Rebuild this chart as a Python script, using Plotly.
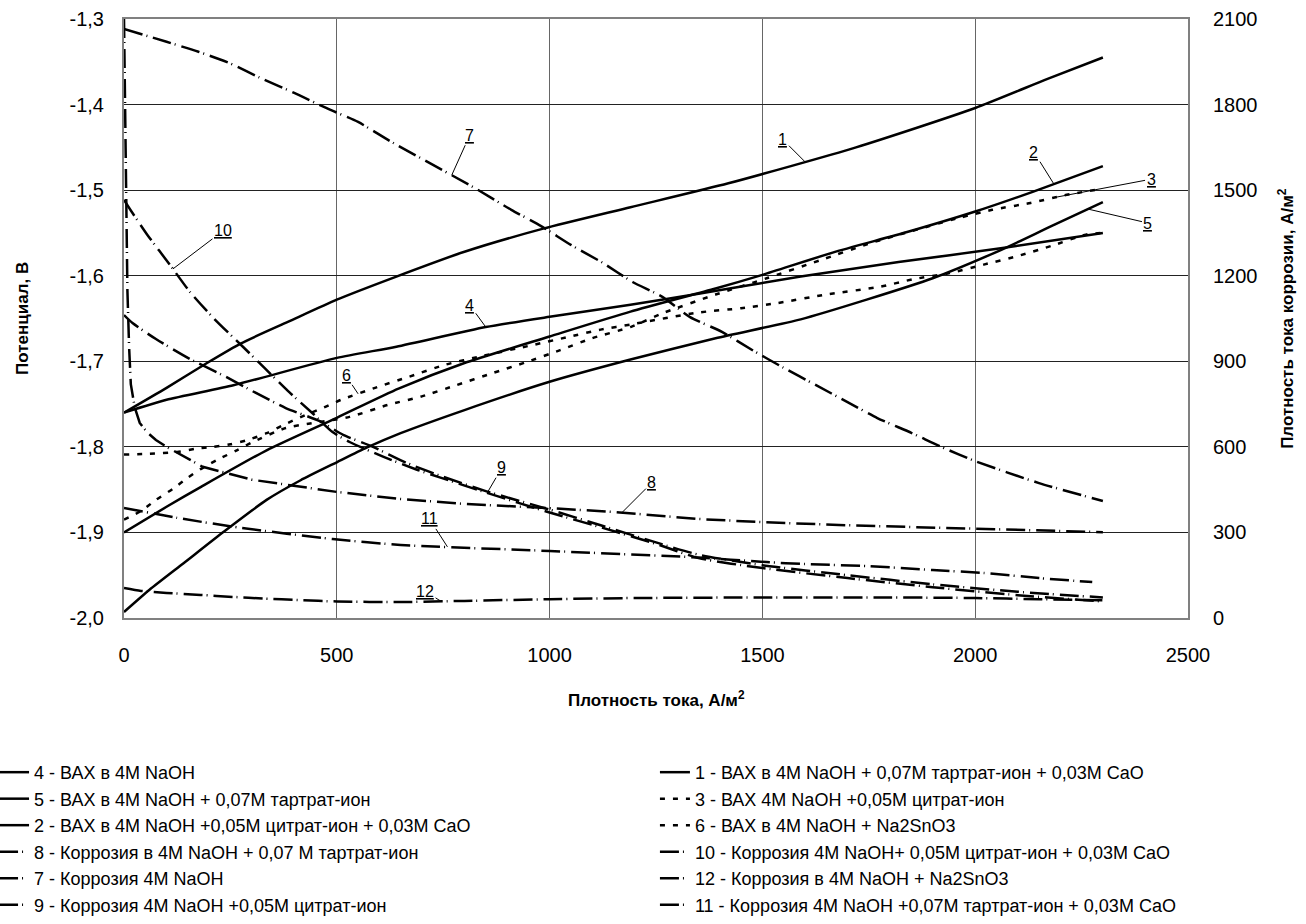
import numpy as np
import plotly.graph_objects as go

# ---------------- data ----------------
# Potential curves (left axis, V)
x1 = [0, 100, 195, 275, 385, 500, 640, 800, 985, 1190, 1420, 1720, 2000, 2170, 2300]
v1 = [-1.760, -1.731, -1.702, -1.679, -1.654, -1.628, -1.601, -1.572, -1.545, -1.520, -1.492, -1.450, -1.404, -1.370, -1.345]

x2 = [0, 100, 180, 335, 500, 645, 800, 1000, 1190, 1390, 1500, 1665, 1840, 2000, 2135, 2300]
v2 = [-1.900, -1.870, -1.847, -1.804, -1.766, -1.732, -1.702, -1.671, -1.642, -1.615, -1.599, -1.573, -1.549, -1.525, -1.502, -1.472]

x3 = [0, 40, 75, 115, 150, 180, 220, 265, 300, 380, 530, 620, 700, 780, 865, 945, 1025, 1100, 1190, 1270, 1390, 1510, 1635, 1760, 1965, 2040, 2130, 2210, 2290]
v3 = [-1.885, -1.875, -1.862, -1.849, -1.836, -1.826, -1.815, -1.804, -1.795, -1.778, -1.765, -1.751, -1.741, -1.728, -1.714, -1.701, -1.687, -1.673, -1.660, -1.643, -1.622, -1.603, -1.582, -1.561, -1.532, -1.523, -1.515, -1.506, -1.499]

x4 = [0, 100, 257, 500, 640, 850, 1000, 1190, 1350, 1590, 1820, 2060, 2300]
v4 = [-1.760, -1.745, -1.728, -1.696, -1.683, -1.660, -1.648, -1.634, -1.621, -1.601, -1.584, -1.568, -1.550]

x5 = [0, 60, 140, 235, 335, 415, 500, 570, 650, 800, 1000, 1190, 1390, 1590, 1745, 1900, 2060, 2175, 2300]
v5 = [-1.993, -1.967, -1.936, -1.899, -1.862, -1.839, -1.818, -1.801, -1.784, -1.757, -1.724, -1.698, -1.673, -1.651, -1.628, -1.603, -1.570, -1.543, -1.514]

x6 = [0, 60, 125, 170, 210, 250, 290, 335, 385, 425, 470, 510, 590, 670, 755, 840, 960, 1040, 1120, 1190, 1350, 1450, 1535, 1650, 1775, 1855, 1940, 2020, 2100, 2180, 2260, 2300]
v6 = [-1.809, -1.808, -1.806, -1.802, -1.800, -1.797, -1.792, -1.784, -1.772, -1.763, -1.754, -1.745, -1.731, -1.718, -1.704, -1.694, -1.681, -1.672, -1.663, -1.657, -1.643, -1.638, -1.632, -1.622, -1.613, -1.604, -1.597, -1.587, -1.577, -1.565, -1.552, -1.550]

# Corrosion current density curves (right axis, A/m2)
x7 = [0, 100, 175, 250, 325, 400, 475, 550, 625, 820, 910, 980, 1050, 1125, 1195, 1265, 1330, 1405, 1480, 1550, 1625, 1700, 1770, 1850, 1920, 2000, 2150, 2300]
c7 = [2065, 2020, 1985, 1944, 1890, 1841, 1788, 1739, 1672, 1511, 1431, 1374, 1308, 1245, 1178, 1126, 1055, 1003, 936, 877, 817, 757, 701, 649, 600, 550, 473, 410]

x8 = [0, 2, 5, 8, 12, 16, 25, 37, 55, 75, 100, 135, 185, 300, 500, 650, 800, 1000, 1150, 1350, 1500, 1700, 2000, 2150, 2300]
c8 = [2100, 1900, 1500, 1150, 950, 820, 740, 684, 650, 624, 600, 570, 530, 485, 442, 417, 400, 385, 372, 347, 336, 325, 312, 306, 301]

x9 = [0, 20, 75, 155, 235, 310, 380, 460, 515, 585, 665, 750, 850, 1000, 1120, 1250, 1350, 1500, 1700, 1900, 2100, 2300]
c9 = [1062, 1034, 978, 908, 849, 789, 736, 690, 642, 600, 543, 495, 445, 380, 325, 265, 222, 185, 150, 118, 92, 72]

x10 = [0, 20, 55, 110, 155, 210, 280, 330, 385, 445, 490, 530, 610, 690, 740, 850, 1000, 1120, 1250, 1350, 1500, 1700, 1900, 2100, 2300]
c10 = [1466, 1420, 1343, 1234, 1143, 1052, 950, 877, 796, 715, 652, 617, 565, 519, 494, 440, 370, 318, 260, 210, 175, 140, 108, 80, 58]

x11 = [0, 125, 275, 490, 650, 1000, 1350, 1510, 1600, 1750, 1900, 2020, 2150, 2275]
c11 = [386, 351, 316, 277, 256, 235, 212, 196, 189, 182, 168, 158, 140, 126]

x12 = [0, 40, 100, 180, 255, 330, 410, 500, 650, 800, 1000, 1200, 1500, 1800, 2000, 2150, 2300]
c12 = [105, 95, 88, 81, 74, 68, 63, 58, 56, 60, 66, 70, 72, 72, 70, 66, 62]

names = {
    1: "1 - ВАХ в 4М NaOH + 0,07М тартрат-ион + 0,03М CaO",
    2: "2 - ВАХ в 4М NaOH +0,05М цитрат-ион + 0,03М CaO",
    3: "3 - ВАХ 4М NaOH +0,05М цитрат-ион",
    4: "4 - ВАХ в 4М NaOH",
    5: "5 - ВАХ в 4М NaOH + 0,07М тартрат-ион",
    6: "6 - ВАХ в 4М NaOH + Na2SnO3",
    7: "7 - Коррозия 4М NaOH",
    8: "8 - Коррозия в 4М NaOH + 0,07 М тартрат-ион",
    9: "9 - Коррозия 4М NaOH +0,05М цитрат-ион",
    10: "10 - Коррозия 4М NaOH+ 0,05М цитрат-ион + 0,03М CaO",
    11: "11 - Коррозия 4М NaOH +0,07М тартрат-ион + 0,03М CaO",
    12: "12 - Коррозия в 4М NaOH + Na2SnO3",
}

x_ticks = [0, 500, 1000, 1500, 2000, 2500]
y_ticks = [-2.0, -1.9, -1.8, -1.7, -1.6, -1.5, -1.4, -1.3]
y_ticktext = ["-2,0", "-1,9", "-1,8", "-1,7", "-1,6", "-1,5", "-1,4", "-1,3"]
y2_ticks = [0, 300, 600, 900, 1200, 1500, 1800, 2100]

series = {
    1: (x1, v1, "y", "solid"), 2: (x2, v2, "y", "solid"), 3: (x3, v3, "y", "dot"),
    4: (x4, v4, "y", "solid"), 5: (x5, v5, "y", "solid"), 6: (x6, v6, "y", "dot"),
    7: (x7, c7, "y2", "dash"), 8: (x8, c8, "y2", "dash"), 9: (x9, c9, "y2", "dash"),
    10: (x10, c10, "y2", "dash"), 11: (x11, c11, "y2", "dash"), 12: (x12, c12, "y2", "dash"),
}
left_col = [4, 5, 2, 8, 7, 9]
right_col = [1, 3, 6, 10, 12, 11]

FONT = "Liberation Sans, Arial, sans-serif"
dash_map = {"solid": "solid", "dot": "5px,8px", "dash": "19px,4px,1px,6px"}

fig = go.Figure()
for col, leg in ((left_col, "legend"), (right_col, "legend2")):
    for k in col:
        xs, ys, ax, st = series[k]
        fig.add_trace(go.Scatter(
            x=xs, y=ys, yaxis=ax, mode="lines", name=names[k],
            legend=leg, legendgroup=str(k),
            line=dict(color="black", width=2.5, dash=dash_map[st],
                      shape="linear" if k == 8 else "spline", smoothing=0.6),
            hoverinfo="skip",
        ))

# curve labels with leader lines: (curve, x at tip, text offset px)
labels = [
    (1, 1600, -22, -22), (2, 2185, -20, -32), (3, 2190, 95, -18), (5, 2265, 60, 14),
    (4, 850, -16, -22), (6, 550, -12, -18), (7, 770, 18, -40), (8, 1170, 30, -30),
    (9, 855, 14, -24), (10, 115, 50, -38), (11, 760, -18, -28), (12, 745, -16, -10),
]
for k, xt, axp, ayp in labels:
    xs, ys, ax, st = series[k]
    yt = float(np.interp(xt, xs, ys))
    fig.add_annotation(x=xt, y=yt, xref="x", yref=ax, text="<u>%d</u>" % k,
                       showarrow=True, arrowhead=0, arrowwidth=1, arrowcolor="black",
                       ax=axp, ay=ayp, standoff=0, startstandoff=0,
                       font=dict(family=FONT, size=16, color="black"))

# axis titles
fig.add_annotation(text="<b>Плотность тока, А/м<sup>2</sup></b>", xref="paper", yref="paper",
                   x=0.5, y=-0.135, xanchor="center", yanchor="middle", showarrow=False,
                   font=dict(family=FONT, size=17, color="black"))
fig.add_annotation(text="<b>Потенциал, В</b>", xref="paper", yref="paper", textangle=-90,
                   x=-0.0955, y=0.5, xanchor="center", yanchor="middle", showarrow=False,
                   font=dict(family=FONT, size=17, color="black"))
fig.add_annotation(text="<b>Плотность тока коррозии, А/м<sup>2</sup></b>", xref="paper", yref="paper",
                   textangle=-90, x=1.0915, y=0.5, xanchor="center", yanchor="middle", showarrow=False,
                   font=dict(family=FONT, size=17, color="black"))

clear = "rgba(0,0,0,0)"
fig.update_layout(
    width=1306, height=924,
    margin=dict(l=124, r=118, t=19, b=306, autoexpand=False),
    paper_bgcolor="white", plot_bgcolor="white",
    font=dict(family=FONT, size=18, color="black"),
    xaxis=dict(range=[0, 2500], tickvals=x_ticks, showgrid=True, gridcolor="#666666", gridwidth=1,
               showline=True, linecolor="#808080", linewidth=2, mirror=True, zeroline=False,
               ticks="outside", ticklen=18, tickcolor=clear, tickfont=dict(size=20)),
    yaxis=dict(range=[-2.0, -1.3], tickvals=y_ticks, ticktext=y_ticktext, showgrid=True,
               gridcolor="#222222", gridwidth=1, showline=True, linecolor="#808080", linewidth=2,
               mirror=True, zeroline=False, ticks="outside", ticklen=14, tickcolor=clear,
               tickfont=dict(size=20)),
    yaxis2=dict(range=[0, 2100], tickvals=y2_ticks, overlaying="y", side="right", showgrid=False,
                zeroline=False, showline=False, ticks="outside", ticklen=20, tickcolor=clear,
                tickfont=dict(size=20)),
    legend=dict(x=-0.1165, xanchor="left", y=-0.227, yanchor="top", orientation="v",
                tracegroupgap=0.1, indentation=-6, font=dict(family=FONT, size=18), bgcolor=clear),
    legend2=dict(x=0.499, xanchor="left", y=-0.227, yanchor="top", orientation="v",
                 tracegroupgap=0.1, font=dict(family=FONT, size=18), bgcolor=clear),
    showlegend=True,
)

fig.write_html("out.html")
